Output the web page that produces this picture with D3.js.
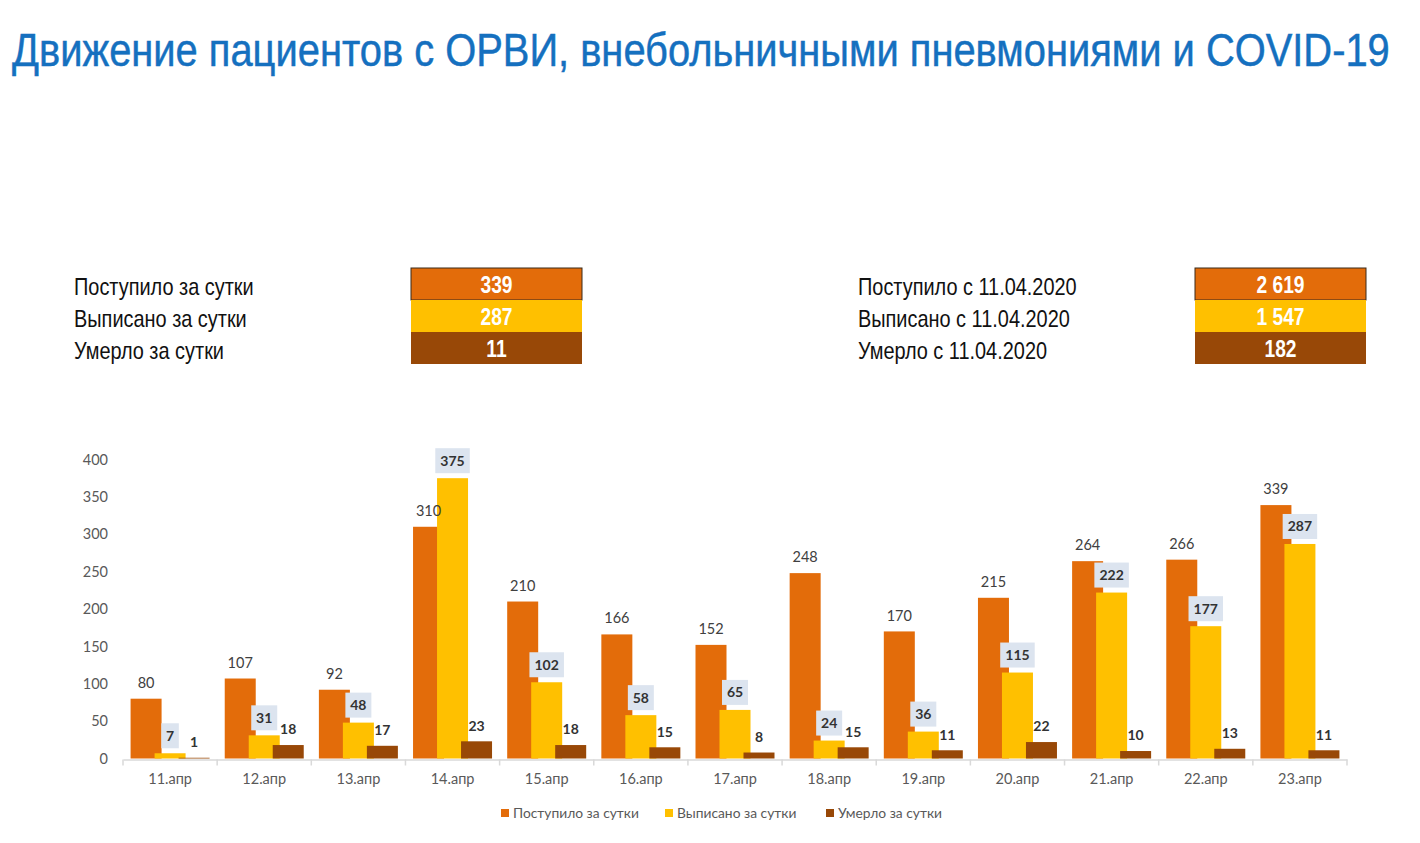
<!DOCTYPE html>
<html><head><meta charset="utf-8">
<script src="https://cdn.jsdelivr.net/npm/d3@7"></script>
<style>body{margin:0;background:#fff}svg{display:block}</style>
</head><body>
<script>
const categories = ["11.апр","12.апр","13.апр","14.апр","15.апр","16.апр","17.апр","18.апр","19.апр","20.апр","21.апр","22.апр","23.апр"];
const admitted = [80,107,92,310,210,166,152,248,170,215,264,266,339];
const discharged = [7,31,48,375,102,58,65,24,36,115,222,177,287];
const died = [1,18,17,23,18,15,8,15,11,22,10,13,11];
const seriesNames = ["Поступило за сутки","Выписано за сутки","Умерло за сутки"];
const yTicks = [0,50,100,150,200,250,300,350,400];
const dayLabels = ["Поступило за сутки","Выписано за сутки","Умерло за сутки"];
const dayValues = ["339","287","11"];
const totalLabels = ["Поступило с 11.04.2020","Выписано с 11.04.2020","Умерло с 11.04.2020"];
const totalValues = ["2 619","1 547","182"];
const colors = ["#E36C0A","#FFC000","#984807"];

const W=1420,H=843;
const svg=d3.select("body").append("svg").attr("width",W).attr("height",H);
const narrow="'Liberation Sans','Arial',sans-serif";
const body="Lato,'Open Sans',sans-serif";

function squeeze(sel,ax,sx){
  sel.attr("transform",`translate(${ax},0) scale(${sx},1) translate(${-ax},0)`);
  return sel;
}

// Title
const title=svg.append("text").attr("x",12).attr("y",66).attr("font-family",narrow)
  .attr("font-size",47).attr("fill","#1570BF").attr("stroke","#1570BF").attr("stroke-width",0.5)
  .text("Движение пациентов с ОРВИ, внебольничными пневмониями и COVID-19");
const tw=title.node().getComputedTextLength();
squeeze(title,12,1378/tw);

// Summary tables
const lblScale=0.83;
function table(x0,labels,values,bx){
  labels.forEach((l,i)=>{
    const t=svg.append("text").attr("x",x0).attr("y",287+i*32).attr("dy","0.35em")
      .attr("font-family",narrow).attr("font-size",24).attr("fill","#111").text(l);
    squeeze(t,x0,lblScale);
    svg.append("rect").attr("x",bx).attr("y",268+i*32).attr("width",171).attr("height",32)
      .attr("fill",colors[i]).attr("stroke",i===0?"#3a2a1a":"none").attr("stroke-width",1);
    const v=svg.append("text").attr("x",bx+85.5).attr("y",285+i*32).attr("dy","0.35em")
      .attr("text-anchor","middle").attr("font-family",narrow).attr("font-weight","bold")
      .attr("font-size",24).attr("fill","#fff").text(values[i]);
    squeeze(v,bx+85.5,0.8);
  });
}
table(74,dayLabels,dayValues,411);
table(858,totalLabels,totalValues,1195);

// Chart
const x0=123,x1=1347,yBase=758.5,yTop=459.5;
const x=d3.scaleBand().domain(categories).range([x0,x1]);
const y=d3.scaleLinear().domain([0,400]).range([yBase,yTop]);
const bw=31,off=24;

const gy=svg.append("g").attr("transform",`translate(${x0},0)`)
  .call(d3.axisLeft(y).tickValues(yTicks).tickSize(0).tickPadding(15));
gy.select(".domain").remove();
gy.selectAll("text").attr("font-family",body).attr("font-size",14.5).attr("fill","#595959");

const gx=svg.append("g").attr("transform",`translate(0,${yBase+1})`)
  .call(d3.axisBottom(x).tickSize(0).tickPadding(14));
gx.select(".domain").attr("stroke","#d9d9d9").attr("stroke-width",1.5);
gx.selectAll("text").attr("font-family",body).attr("font-size",14.5).attr("fill","#595959");
const bounds=categories.map(c=>x(c)).concat([x1]);
svg.append("g").selectAll("line").data(bounds).join("line")
  .attr("x1",d=>d).attr("x2",d=>d).attr("y1",yBase+1).attr("y2",yBase+7)
  .attr("stroke","#d9d9d9").attr("stroke-width",1.5);

const series=[admitted,discharged,died];
const cx=(c,s)=>x(c)+x.bandwidth()/2-(bw+2*off)/2+s*off;
series.forEach((vals,s)=>{
  svg.append("g").selectAll("rect").data(categories).join("rect")
    .attr("x",(c)=>cx(c,s)).attr("width",bw)
    .attr("y",(c,i)=>y(vals[i])).attr("height",(c,i)=>yBase-y(vals[i]))
    .attr("fill",colors[s]);
});
categories.forEach((c,i)=>{
  svg.append("text").attr("x",cx(c,0)+bw/2).attr("y",y(admitted[i])-16).attr("dy","0.35em")
    .attr("text-anchor","middle").attr("font-family",body).attr("font-size",14.5).attr("fill","#404040")
    .text(admitted[i]);
  const t=String(discharged[i]);
  const bwid=t.length*8.5+9;
  const ly=y(discharged[i])-17.5;
  svg.append("rect").attr("x",cx(c,1)+bw/2-bwid/2).attr("y",ly-12.5).attr("width",bwid).attr("height",25)
    .attr("fill","#DCE4EF");
  svg.append("text").attr("x",cx(c,1)+bw/2).attr("y",ly).attr("dy","0.35em")
    .attr("text-anchor","middle").attr("font-family",body).attr("font-weight","bold").attr("font-size",14)
    .attr("fill","#333").text(t);
  svg.append("text").attr("x",cx(c,2)+bw/2).attr("y",y(died[i])-15.5).attr("dy","0.35em")
    .attr("text-anchor","middle").attr("font-family",body).attr("font-weight","bold").attr("font-size",14)
    .attr("fill","#333").text(died[i]);
});

// Legend
const legX=[501,665,826];
seriesNames.forEach((n,i)=>{
  svg.append("rect").attr("x",legX[i]).attr("y",809).attr("width",8).attr("height",8).attr("fill",colors[i]);
  svg.append("text").attr("x",legX[i]+12).attr("y",813).attr("dy","0.35em")
    .attr("font-family",body).attr("font-size",13.8).attr("fill","#595959").text(n);
});
</script>
</body></html>
